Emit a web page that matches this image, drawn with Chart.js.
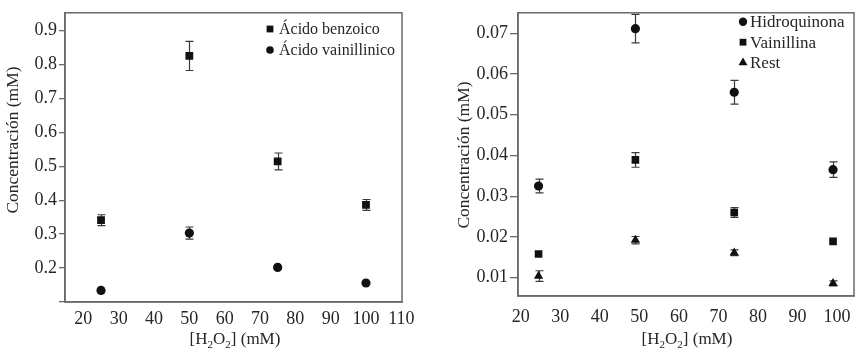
<!DOCTYPE html>
<html><head><meta charset="utf-8">
<script src="https://cdn.jsdelivr.net/npm/chart.js@4.4.0/dist/chart.umd.min.js"></script>
<style>
html,body{margin:0;padding:0;background:#fff;}
#wrap{position:relative;width:865px;height:354px;overflow:hidden;}
#c1{position:absolute;left:0;top:0;}
#c2{position:absolute;left:432px;top:0;}
</style></head><body>
<div id="wrap"><canvas id="c1" width="432" height="354"></canvas><canvas id="c2" width="433" height="354"></canvas></div>
<script>
// ---------- data (left panel) ----------
const h2o2Left = [25, 50, 75, 100];
const acidoBenzoico = [0.341, 0.825, 0.514, 0.386];
const acidoBenzoicoErr = [0.016, 0.043, 0.025, 0.016];
const acidoVainillinico = [0.134, 0.303, 0.202, 0.156];
const acidoVainillinicoErr = [0, 0.018, 0, 0];
const leftYTicks = [0.2, 0.3, 0.4, 0.5, 0.6, 0.7, 0.8, 0.9];
const leftXTicks = [20, 30, 40, 50, 60, 70, 80, 90, 100, 110];

// ---------- data (right panel) ----------
const h2o2Right = [24.5, 49, 74, 99];
const hidroquinona = [0.0325, 0.0711, 0.0555, 0.0365];
const hidroquinonaErr = [0.0017, 0.0035, 0.0029, 0.0019];
const vainillina = [0.0158, 0.0389, 0.0260, 0.0189];
const vainillinaErr = [0, 0.0018, 0.0012, 0];
const rest = [0.0104, 0.0192, 0.0161, 0.0086];
const restErr = [0.0013, 0.0009, 0.0007, 0.0006];
const rightYTicks = [0.01, 0.02, 0.03, 0.04, 0.05, 0.06, 0.07];
const rightXTicks = [20, 30, 40, 50, 60, 70, 80, 90, 100];

// ---------- text ----------
const yTitleText = 'Concentración (mM)';
const xTitleParts = [['[H', false], ['2', true], ['O', false], ['2', true], ['] (mM)', false]];
const leftLabels = ['Ácido benzoico', 'Ácido vainillinico'];
const rightLabels = ['Hidroquinona', 'Vainillina', 'Rest'];

const FONT = '"Liberation Serif", "Times New Roman", serif';
const TXT = '#262626';
const FRAME = '#6a6a6a';
const MARK = '#111111';

function pts(xs, ys) { return xs.map((x, i) => ({x: x, y: ys[i]})); }

function drawMarker(ctx, style, r, x, y) {
  ctx.beginPath();
  if (style === 'circle') {
    ctx.arc(x, y, r, 0, Math.PI * 2);
  } else if (style === 'rect') {
    const s = Math.SQRT1_2 * r;
    ctx.rect(x - s, y - s, 2 * s, 2 * s);
  } else if (style === 'triangle') {
    ctx.moveTo(x, y - r);
    ctx.lineTo(x + r * Math.sin(Math.PI / 3), y + r * 0.5);
    ctx.lineTo(x - r * Math.sin(Math.PI / 3), y + r * 0.5);
    ctx.closePath();
  }
  ctx.fill();
}

const errorBars = {
  id: 'errorBars',
  beforeDatasetsDraw(chart) {
    const ctx = chart.ctx, xs = chart.scales.x, ys = chart.scales.y;
    ctx.save();
    ctx.strokeStyle = '#3a3a3a';
    ctx.lineWidth = 1.2;
    chart.data.datasets.forEach(ds => {
      (ds.errors || []).forEach((e, j) => {
        if (!e) return;
        const p = ds.data[j];
        const px = Math.round(xs.getPixelForValue(p.x)) + 0.5;
        const y1 = ys.getPixelForValue(p.y + e), y2 = ys.getPixelForValue(p.y - e);
        ctx.beginPath();
        ctx.moveTo(px, y1); ctx.lineTo(px, y2);
        ctx.moveTo(px - 4, y1); ctx.lineTo(px + 4, y1);
        ctx.moveTo(px - 4, y2); ctx.lineTo(px + 4, y2);
        ctx.stroke();
      });
    });
    ctx.restore();
  }
};

const decor = {
  id: 'decor',
  afterDraw(chart, args, o) {
    const ctx = chart.ctx, a = chart.chartArea;
    ctx.save();
    // frame
    ctx.strokeStyle = FRAME;
    ctx.lineWidth = 1.5;
    ctx.strokeRect(a.left, a.top, a.right - a.left, a.bottom - a.top);
    ctx.fillStyle = TXT;
    // y title
    ctx.save();
    ctx.translate(o.yTitle.x, o.yTitle.y);
    ctx.rotate(-Math.PI / 2);
    ctx.font = '17.5px ' + FONT;
    ctx.textAlign = 'center';
    ctx.textBaseline = 'middle';
    ctx.fillText(yTitleText, 0, 0);
    ctx.restore();
    // x title with subscripts
    const big = '17px ' + FONT, small = '11px ' + FONT;
    let w = 0;
    xTitleParts.forEach(([t, sub]) => { ctx.font = sub ? small : big; w += ctx.measureText(t).width; });
    let cx = o.xTitle.x - w / 2;
    ctx.textAlign = 'left';
    ctx.textBaseline = 'alphabetic';
    xTitleParts.forEach(([t, sub]) => {
      ctx.font = sub ? small : big;
      ctx.fillText(t, cx, o.xTitle.y + (sub ? 4 : 0));
      cx += ctx.measureText(t).width;
    });
    // legend
    ctx.font = o.legend.font + 'px ' + FONT;
    ctx.textBaseline = 'middle';
    chart.data.datasets.forEach((ds, i) => {
      const y = o.legend.y + i * o.legend.step;
      ctx.fillStyle = MARK;
      drawMarker(ctx, ds.pointStyle, o.legend.r[i], o.legend.mx, y);
      ctx.fillStyle = TXT;
      ctx.fillText(ds.label, o.legend.tx, y + 1);
    });
    ctx.restore();
  }
};

function ds(label, xs, ys, errs, style, r) {
  return {label: label, data: pts(xs, ys), errors: errs, pointStyle: style, pointRadius: r,
    backgroundColor: MARK, borderColor: MARK, borderWidth: 0, showLine: false};
}

function makeOpts(cfg) {
  return {
    responsive: false, animation: false, devicePixelRatio: 1,
    layout: {padding: cfg.padding},
    scales: {
      x: {
        type: 'linear', min: cfg.xmin, max: cfg.xmax,
        afterFit: s => { s.height = cfg.xh; },
        afterBuildTicks: s => { s.ticks = cfg.xticks.map(v => ({value: v})); },
        ticks: {padding: cfg.xpad, font: {family: FONT, size: 18}, color: TXT, maxRotation: 0, autoSkip: false},
        grid: {display: false, drawTicks: false},
        border: {display: true, color: FRAME, width: 1.5}
      },
      y: {
        type: 'linear', min: cfg.ymin, max: cfg.ymax,
        afterFit: s => { s.width = cfg.yw; },
        afterBuildTicks: s => { s.ticks = cfg.yticks.map(v => ({value: v})); },
        ticks: {padding: 2, font: {family: FONT, size: 18}, color: TXT,
          callback: v => cfg.yhide.includes(v) ? '' : v.toFixed(cfg.ydec)},
        grid: {display: true, drawOnChartArea: false, drawTicks: true, tickLength: cfg.tl, color: FRAME, lineWidth: 1.3},
        border: {display: true, color: FRAME, width: 1.5}
      }
    },
    plugins: {legend: {display: false}, tooltip: {enabled: false}, decor: cfg.decor}
  };
}

new Chart(document.getElementById('c1'), {
  type: 'scatter',
  data: {datasets: [
    ds(leftLabels[0], h2o2Left, acidoBenzoico, acidoBenzoicoErr, 'rect', 5.5),
    ds(leftLabels[1], h2o2Left, acidoVainillinico, acidoVainillinicoErr, 'circle', 4.6)
  ]},
  options: makeOpts({
    padding: {left: 0, right: 30, top: 8, bottom: 0},
    xmin: 14.8, xmax: 110.2, xh: 52, xpad: 6, xticks: leftXTicks,
    ymin: 0.1, ymax: 0.952, yw: 65, yticks: [0.1].concat(leftYTicks), yhide: [0.1], ydec: 1, tl: 6,
    decor: {yTitle: {x: 13, y: 140}, xTitle: {x: 235, y: 344},
      legend: {mx: 270, tx: 279, y: 29, step: 21, font: 16, r: [4.8, 3.8]}}
  }),
  plugins: [errorBars, decor]
});

new Chart(document.getElementById('c2'), {
  type: 'scatter',
  data: {datasets: [
    ds(rightLabels[0], h2o2Right, hidroquinona, hidroquinonaErr, 'circle', 4.6),
    ds(rightLabels[1], h2o2Right, vainillina, vainillinaErr, 'rect', 5.4),
    ds(rightLabels[2], h2o2Right, rest, restErr, 'triangle', 5.4)
  ]},
  options: makeOpts({
    padding: {left: 0, right: 11, top: 4, bottom: 0},
    xmin: 19.3, xmax: 104.3, xh: 58, xpad: 10, xticks: rightXTicks,
    ymin: 0.0055, ymax: 0.075, yw: 86, yticks: rightYTicks, yhide: [], ydec: 2, tl: 8,
    decor: {yTitle: {x: 32, y: 155}, xTitle: {x: 255, y: 344},
      legend: {mx: 311, tx: 318, y: 21.7, step: 20.5, font: 17, r: [4.2, 4.8, 5.2]}}
  }),
  plugins: [errorBars, decor]
});
</script>
</body></html>
